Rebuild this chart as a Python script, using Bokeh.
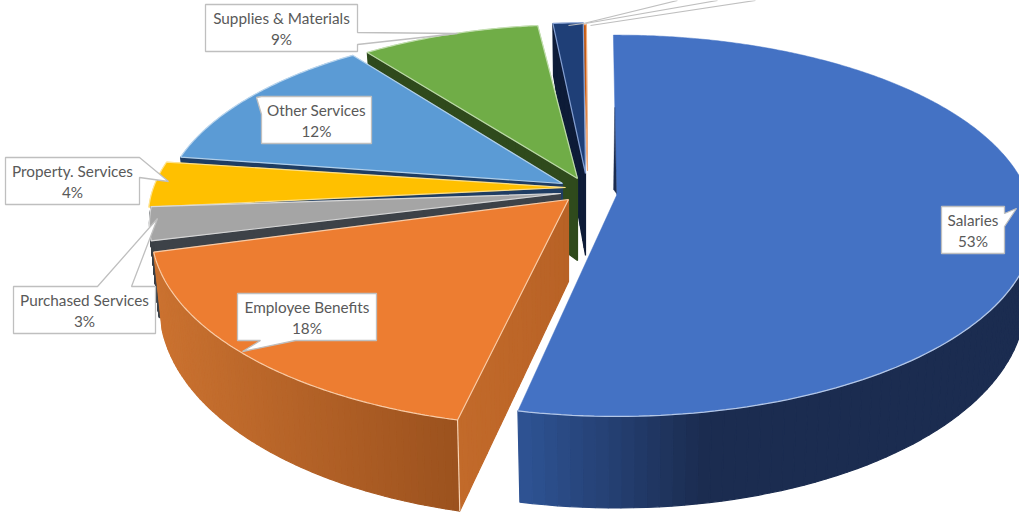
import math
from bokeh.plotting import figure
from bokeh.models import Range1d
from bokeh.core.properties import value
from bokeh.embed import file_html
from bokeh.resources import INLINE

# ---- data ----
categories = ["Salaries", "Employee Benefits", "Purchased Services", "Property. Services",
              "Other Services", "Supplies & Materials", "", ""]
shares = [53.1, 17.8, 2.7, 3.8, 12.4, 8.6, 1.3, 0.3]
tick_fmt = "{:.0f}%"

# ---- styling / projection (pixel space of the 1019x513 picture) ----
W, H = 1019, 513
A, B, K = 412.0, 187.7, 0.1586
styles = [
    dict(top="#4472c4", wall=("#2f5597", "#1b2c50"), pale="#b4c7e7", apex=(616, 195), s=1.00, sy=0.99, t0=0.0, t1=1.0, start_wall=None, outer=True),
    dict(top="#ed7d31", wall=("#cb7230", "#9c521e"), pale="#fbd5b5", apex=(568, 199), s=1.00, sy=1.02, t0=2.5, t1=0.0, start_wall=("#c26a2a", "#b86226"), outer=True),
    dict(top="#a5a5a5", wall=("#3d4248", "#3d4248"), pale="#dedede", apex=(560, 193), s=0.985, sy=0.985, t0=1.0, t1=1.5, start_wall=("#3d4248", "#3d4248"), outer=True),
    dict(top="#ffc000", wall=("#7f6000", "#7f6000"), pale="#ffe699", apex=(565, 187), s=1.0, sy=0.98, t0=-0.5, t1=0.0, start_wall=None, outer=False),
    dict(top="#5b9bd5", wall=("#1f3d63", "#1f3d63"), pale="#bdd7ee", apex=(562, 183), s=0.96, sy=0.96, t0=0.5, t1=0.5, start_wall=("#1f3d63", "#1f3d63"), outer=False),
    dict(top="#70ad47", wall=("#2f4a1c", "#2f4a1c"), pale="#c5e0b4", apex=(577, 178), s=0.95, sy=0.95, t0=0.0, t1=-0.5, start_wall=("#2f4a1c", "#2f4a1c"), outer=False),
    dict(top="#1f3f77", wall=("#0e1c38", "#0e1c38"), pale="#8faadc", apex=(585, 173), s=0.93, sy=0.93, t0=0.6, t1=1.2, start_wall=("#0e1c38", "#0e1c38"), outer=False),
    dict(top="#c55a11", wall=("#843c0c", "#843c0c"), pale="#f4b183", apex=(587, 170), s=0.90, sy=0.90, t0=0.6, t1=0.3, start_wall=None, outer=False),
]
first_angle = -0.5

callouts = [
    dict(text=0, box=(941, 206, 1004, 253), pts=[(941, 206), (1004, 206), (1004, 213), (1016, 208), (1004, 226), (1004, 253), (941, 253)]),
    dict(text=1, box=(237, 293, 376, 340), pts=[(237, 293), (376, 293), (376, 340), (295, 340), (242, 351), (260, 340), (237, 340)]),
    dict(text=2, box=(13, 286, 155, 333), pts=[(13, 286), (97, 286), (157, 218), (131, 286), (155, 286), (155, 333), (13, 333)]),
    dict(text=3, box=(5, 157, 139, 204), pts=[(5, 157), (139, 157), (168, 181), (139, 177), (139, 204), (5, 204)]),
    dict(text=4, box=(261, 96, 371, 143), pts=[(261, 96), (371, 96), (371, 143), (261, 143), (261, 114), (256, 97)]),
    dict(text=5, box=(205, 4, 357, 51), pts=[(205, 4), (357, 4), (357, 32), (457, 33), (357, 44), (357, 51), (205, 51)]),
]
leaders = [((568, 25), (583, 23)), ((583, 23), (677, 0)), ((585, 23), (717, 0)), ((590, 25), (755, 0))]


def proj(theta, st):
    t = math.radians(theta)
    X, Y = math.sin(t), -math.cos(t)
    d = 1 - K * Y
    return st["apex"][0] + st["s"] * A * X / d, st["apex"][1] + st["sy"] * B * Y / d, Y


def low(theta, st):
    x, y, Y = proj(theta, st)
    return x + (st["apex"][0] - x) * 0.02, y + 72 + 19.6 * Y


def apex_low(st):
    return st["apex"][0], st["apex"][1] + 82


def mix(c0, c1, f):
    a = [int(c0[i:i + 2], 16) for i in (1, 3, 5)]
    b = [int(c1[i:i + 2], 16) for i in (1, 3, 5)]
    return "#%02x%02x%02x" % tuple(round(a[i] + (b[i] - a[i]) * f) for i in range(3))


def steps(a0, a1, n):
    return [a0 + (a1 - a0) * i / n for i in range(n + 1)]


p = figure(width=W, height=H, x_range=Range1d(0, W), y_range=Range1d(H, 0),
           output_backend="svg", toolbar_location=None, min_border=0,
           background_fill_color="white", border_fill_color="white", outline_line_color=None)
p.axis.visible = False
p.grid.visible = False

total = sum(shares)
bounds = []
acc = first_angle
for v in shares:
    bounds.append((acc, acc + v / total * 360))
    acc += v / total * 360

# back-to-front painter's order
for idx in [7, 6, 5, 4, 3, 2, 1, 0]:
    st = styles[idx]
    a0, a1 = bounds[idx][0] + st["t0"], bounds[idx][1] + st["t1"]
    ax, ay = st["apex"]
    # radial wall at the start edge
    if st["start_wall"]:
        n = 24
        xs, ys, cs = [], [], []
        x0, y0, _ = proj(a0, st)
        bx0, by0 = low(a0, st)
        abx, aby = apex_low(st)
        for i in range(n):
            f0, f1 = i / n, (i + 1) / n
            xs.append([x0 + (ax - x0) * f0, x0 + (ax - x0) * f1, bx0 + (abx - bx0) * f1, bx0 + (abx - bx0) * f0])
            ys.append([y0 + (ay - y0) * f0, y0 + (ay - y0) * f1, by0 + (aby - by0) * f1, by0 + (aby - by0) * f0])
            cs.append(mix(st["start_wall"][0], st["start_wall"][1], f0))
        p.patches(xs, ys, fill_color=cs, line_color=cs, line_width=1.2)
    # outer wall, only its front part
    w0, w1 = max(a0, 85), min(a1, 272)
    if st["outer"] and w1 > w0:
        th = steps(w0, w1, 70)
        xs, ys, cs = [], [], []
        xa, xb = proj(w1, st)[0], proj(w0, st)[0]
        for i in range(len(th) - 1):
            x0, y0, _ = proj(th[i], st)
            x1, y1, _ = proj(th[i + 1], st)
            b0 = low(th[i], st)
            b1 = low(th[i + 1], st)
            if idx == 0:
                f = min(1.0, max(0.0, (x0 - 518) / 190))
                c = mix(st["wall"][0], st["wall"][1], f)
            else:
                f = (x0 - xa) / max(1.0, xb - xa)
                c = mix(st["wall"][0], st["wall"][1], f)
            xs.append([x0, x1, b1[0], b0[0]])
            ys.append([y0, y1, b1[1], b0[1]])
            cs.append(c)
        p.patches(xs, ys, fill_color=cs, line_color=cs, line_width=1.2)
    # top face
    th = steps(a0, a1, max(8, int(a1 - a0) * 2))
    rim = [proj(t, st) for t in th]
    p.patch([ax] + [r[0] for r in rim], [ay] + [r[1] for r in rim],
            fill_color=st["top"], line_color=st["top"], line_width=0.5)
    # pale edge lines
    if idx == 0:
        th2 = steps(88, a1, 80)
        rim2 = [proj(t, st) for t in th2]
        p.line([r[0] for r in rim2], [r[1] for r in rim2], line_color=st["pale"], line_width=1.3)
        # thin dark sliver on the start edge
        x0, y0, _ = proj(a0, st)
        p.patch([x0 + (ax - x0) * 0.45, ax, ax - 3], [y0 + (ay - y0) * 0.45, ay - 2, ay - 6],
                fill_color="#1b2c50", line_color="#1b2c50", line_width=0.3)
    else:
        p.line([ax] + [r[0] for r in rim] + [ax], [ay] + [r[1] for r in rim] + [ay],
               line_color=st["pale"], line_width=1.2, line_alpha=0.9)
        if idx == 1:
            x0, y0, _ = proj(a0, st)
            bx0, by0 = low(a0, st)
            p.line([x0, bx0], [y0, by0], line_color=st["pale"], line_width=1.2)

# callouts
p.patches([[q[0] for q in c["pts"]] for c in callouts], [[q[1] for q in c["pts"]] for c in callouts],
          fill_color="white", line_color="#bfbfbf", line_width=1.3)
for a, b in leaders:
    p.line([a[0], b[0]], [a[1], b[1]], line_color="#bfbfbf", line_width=1.2)

tx, ty, tt = [], [], []
for c in callouts:
    x0, y0, x1, y1 = c["box"]
    cx, cy = (x0 + x1) / 2, (y0 + y1) / 2
    tx += [cx, cx]
    ty += [cy - 10, cy + 10.5]
    tt += [categories[c["text"]], tick_fmt.format(shares[c["text"]])]
p.text(tx, ty, text=tt, text_font=value("Lato"), text_font_size="15.3px", text_color="#595959",
       text_align="center", text_baseline="middle")

open("out.html", "w").write(file_html(p, INLINE))
